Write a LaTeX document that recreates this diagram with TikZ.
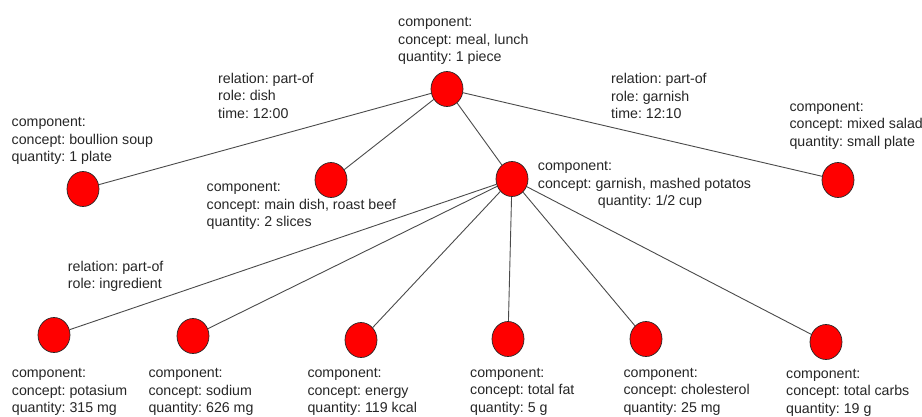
\documentclass[tikz,border=0pt]{standalone}
\usepackage{fontspec}
\setmainfont{Liberation Sans}
\usetikzlibrary{shapes.geometric}
\definecolor{dotRed}{HTML}{FF0000}
\definecolor{edgeGray}{HTML}{4A4A4A}
\definecolor{txtGray}{HTML}{262626}
\frenchspacing

\begin{document}
\begin{tikzpicture}[x=1pt, y=-1pt,
  dot/.style={ellipse, draw=black!85, fill=dotRed, line width=0.7pt,
              minimum width=32pt, minimum height=35pt, inner sep=0pt},
  edge/.style={draw=edgeGray, line width=0.9pt},
  lbl/.style={anchor=base west, align=left, inner sep=0pt, text=txtGray,
              font=\fontsize{14.2}{17.5}\selectfont}
]
\useasboundingbox (0,0) rectangle (922,416);

% components
\node[dot] (meal)    at (447,89)  {};
\node[dot] (soup)    at (83,189)  {};
\node[dot] (beef)    at (331,180) {};
\node[dot] (garnish) at (512,179) {};
\node[dot] (salad)   at (838,180) {};
\node[dot] (pot)     at (54,335)  {};
\node[dot] (sod)     at (193,336) {};
\node[dot] (kcal)    at (361,340) {};
\node[dot] (fat)     at (508,339) {};
\node[dot] (chol)    at (646,339) {};
\node[dot] (carb)    at (826,342) {};

% part-of links
\draw[edge] (meal) -- (soup);
\draw[edge] (meal) -- (beef);
\draw[edge] (meal) -- (garnish);
\draw[edge] (meal) -- (salad);
\draw[edge] (garnish) -- (pot);
\draw[edge] (garnish) -- (sod);
\draw[edge] (garnish) -- (kcal);
\draw[edge] (garnish) -- (fat);
\draw[edge] (garnish) -- (chol);
\draw[edge] (garnish) -- (carb);

% labels (base = last line)
\node[lbl] (lmeal) at (398,61.7) {component:\\concept: meal, lunch\\quantity: 1 piece};
\node[lbl] (lsoup) at (11.5,161.7) {component:\\concept: boullion soup\\quantity: 1 plate};
\node[lbl] (rdish) at (218,118.3) {relation: part-of\\role: dish\\time: 12:00};
\node[lbl] (lbeef) at (206.5,226.5) {component:\\concept: main dish, roast beef\\quantity: 2 slices};
\node[lbl] (lgarnish) at (537.7,205.5) {component:\\concept: garnish, mashed potatos\\\hspace*{60pt}quantity: 1/2 cup};
\node[lbl] (rgarnish) at (611,118.8) {relation: part-of\\role: garnish\\time: 12:10};
\node[lbl] (lsalad) at (789.3,146) {component:\\concept: mixed salad\\quantity: small plate};
\node[lbl] (ringr) at (67.7,288.8) {relation: part-of\\role: ingredient};
\node[lbl] (lpot)  at (11.7,412.5) {component:\\concept: potasium\\quantity: 315 mg};
\node[lbl] (lsod)  at (148.3,412.5) {component:\\concept: sodium\\quantity: 626 mg};
\node[lbl] (lkcal) at (307.3,412.5) {component:\\concept: energy\\quantity: 119 kcal};
\node[lbl] (lfat)  at (470,412) {component:\\concept: total fat\\quantity: 5 g};
\node[lbl] (lchol) at (623.3,412) {component:\\concept: cholesterol\\quantity: 25 mg};
\node[lbl] (lcarb) at (786,413) {component:\\concept: total carbs\\quantity: 19 g};
\end{tikzpicture}
\end{document}
